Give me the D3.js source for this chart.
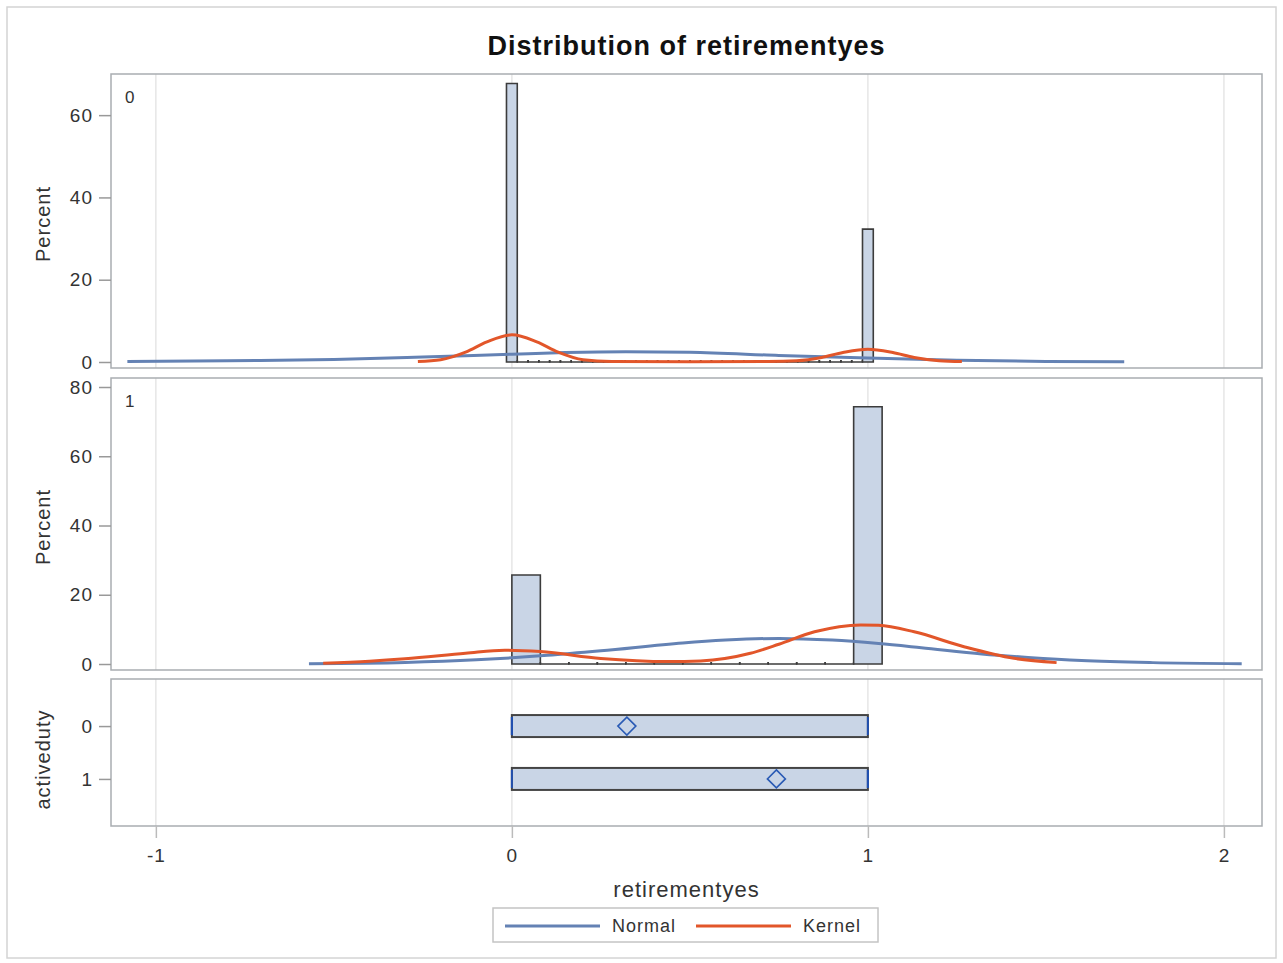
<!DOCTYPE html>
<html lang="en">
    <head>
        <meta charset="utf-8">
        <title>Distribution of retirementyes</title>
        <style type="text/css">
            body {
              margin: 0;
              background: white;
            }
            text {
              font-family: "Liberation Sans", Arial, sans-serif;
              fill: #333;
              letter-spacing: 1px;
            }
            text.title {
              font-size: 27px;
              font-weight: bold;
              fill: #111;
            }
            text.tick {
              font-size: 19px;
            }
            text.AxisTitle {
              font-size: 20px;
            }
            text.legend {
              font-size: 18px;
            }
            text.panel {
              font-size: 17px;
              letter-spacing: 0;
            }
        </style>
    </head>
    <body>
        <script type="text/javascript" src="https://cdnjs.cloudflare.com/ajax/libs/d3/7.8.5/d3.min.js"></script>
        <script type="text/javascript">

          // histogram for activeduty = 0 (bins centred on k/33)
          const hist0Width = 1 / 33;
          const hist0Pct = [67.7, 0, 0, 0, 0, 0, 0, 0, 0, 0, 0, 0, 0, 0, 0, 0, 0,
                            0, 0, 0, 0, 0, 0, 0, 0, 0, 0, 0, 0, 0, 0, 0, 0, 32.3];

          // histogram for activeduty = 1 (bins starting at 0)
          const hist1Width = 0.08;
          const hist1Pct = [25.7, 0, 0, 0, 0, 0, 0, 0, 0, 0, 0, 0, 74.3];

          // fitted curves: [x, percent]
          const normal0 = [[-1.08, 0.1], [-0.8, 0.3], [-0.5, 0.6], [-0.25, 1.2], [0, 1.9], [0.15, 2.3],
                           [0.32, 2.5], [0.5, 2.35], [0.75, 1.6], [1.0, 0.95], [1.25, 0.45], [1.5, 0.15], [1.72, 0.05]];
          const kernel0 = [[-0.264, 0.1], [-0.2, 0.55], [-0.13, 2.4], [-0.07, 4.9], [0, 6.6], [0.07, 4.9],
                           [0.13, 2.4], [0.2, 0.55], [0.28, 0.1], [0.5, 0.05], [0.72, 0.1], [0.8, 0.3],
                           [0.87, 1.1], [0.93, 2.3], [1.0, 3.1], [1.07, 2.3], [1.13, 1.1], [1.2, 0.3], [1.264, 0.1]];
          const normal1 = [[-0.57, 0.1], [-0.3, 0.45], [-0.1, 1.2], [0, 1.8], [0.1, 2.5], [0.25, 3.8],
                           [0.48, 6.1], [0.6, 6.9], [0.75, 7.4], [0.9, 6.9], [1.03, 5.9], [1.15, 4.7],
                           [1.32, 2.9], [1.45, 1.9], [1.6, 1.0], [1.8, 0.4], [2.05, 0.1]];
          const kernel1 = [[-0.53, 0.2], [-0.4, 0.8], [-0.3, 1.5], [-0.13, 3.1], [-0.02, 4.0], [0.08, 3.6],
                           [0.25, 1.6], [0.44, 0.7], [0.53, 0.9], [0.67, 3.1], [0.75, 5.7], [0.85, 9.3],
                           [0.98, 11.3], [1.03, 11.2], [1.13, 9.3], [1.27, 5.0], [1.41, 1.65], [1.53, 0.4]];

          // box plot summaries per activeduty group
          const groups = ["0", "1"];
          const boxMin = [0, 0];
          const boxQ1 = [0, 0];
          const boxMedian = [0, 1];
          const boxQ3 = [1, 1];
          const boxMax = [1, 1];
          const boxMean = [0.323, 0.743];

          // tick labels
          const xTicks = [-1, 0, 1, 2];
          const yTicks0 = [0, 20, 40, 60];
          const yTicks1 = [0, 20, 40, 60, 80];

          const width = 1283, height = 963;
          const left = 111, right = 1262;

          const barFill = "#c9d5e6", barStroke = "#3c3c3c";
          const normalColor = "#6482b4", kernelColor = "#e2562a";
          const frameColor = "#a9adb1", gridColor = "#e6e6e6";

          var svg = d3.select("body")
                      .append("svg")
                      .attr("width", width)
                      .attr("height", height);

          // outer border
          svg.append("rect")
             .attr("x", 7).attr("y", 7)
             .attr("width", 1269).attr("height", 951)
             .attr("fill", "none")
             .attr("stroke", "#d4d4d4")
             .attr("stroke-width", 1.5);

          // title
          svg.append("text")
             .attr("class", "title")
             .attr("x", (left + right) / 2)
             .attr("y", 55)
             .attr("text-anchor", "middle")
             .text("Distribution of retirementyes");

          var xScale = d3.scaleLinear()
                         .domain([-1.126, 2.107])
                         .range([left, right]);

          // panel definitions
          const panels = [
            {top: 74, bottom: 368, domain: [-1.46, 70], ticks: yTicks0, label: "0",
             hist: hist0Pct, binWidth: hist0Width, binStart: -hist0Width / 2, normal: normal0, kernel: kernel0},
            {top: 378, bottom: 670, domain: [-1.73, 82.6], ticks: yTicks1, label: "1",
             hist: hist1Pct, binWidth: hist1Width, binStart: 0, normal: normal1, kernel: kernel1}
          ];

          var line = d3.line().curve(d3.curveMonotoneX);

          function styleTicks(sel, color) {
            sel.select(".domain").remove();
            sel.selectAll(".tick line").attr("stroke", color).attr("stroke-width", 1.5);
            sel.selectAll(".tick text")
               .attr("class", "tick")
               .attr("font-family", null).attr("font-size", null)
               .attr("fill", "#2b2b2b");
          }

          panels.forEach(function(p) {
            var yScale = d3.scaleLinear()
                           .domain(p.domain)
                           .range([p.bottom, p.top]);

            var g = svg.append("g");

            // vertical grid
            g.selectAll("line.grid")
             .data(xTicks)
             .enter()
             .append("line")
             .attr("x1", d => xScale(d)).attr("x2", d => xScale(d))
             .attr("y1", p.top).attr("y2", p.bottom)
             .attr("stroke", gridColor)
             .attr("stroke-width", 1.5);

            // histogram bars
            g.selectAll("path.bar")
             .data(p.hist)
             .enter()
             .append("path")
             .attr("d", function(d, i) {
                var x0 = xScale(p.binStart + i * p.binWidth);
                var x1 = xScale(p.binStart + (i + 1) * p.binWidth);
                var y0 = yScale(0);
                var yt = d > 0 ? yScale(d) : y0 - 2;
                if (d > 0) {
                  return "M" + x0 + "," + y0 + "V" + yt + "H" + x1 + "V" + y0 + "Z";
                }
                return "M" + x0 + "," + yt + "V" + y0 + "H" + x1 + "V" + yt;
             })
             .attr("fill", d => d > 0 ? barFill : "none")
             .attr("stroke", barStroke)
             .attr("stroke-width", 1.6);

            // curves
            g.append("path")
             .attr("d", line(p.normal.map(d => [xScale(d[0]), yScale(d[1])])))
             .attr("fill", "none")
             .attr("stroke", normalColor)
             .attr("stroke-width", 3);

            g.append("path")
             .attr("d", line(p.kernel.map(d => [xScale(d[0]), yScale(d[1])])))
             .attr("fill", "none")
             .attr("stroke", kernelColor)
             .attr("stroke-width", 3);

            // frame
            g.append("rect")
             .attr("x", left).attr("y", p.top)
             .attr("width", right - left).attr("height", p.bottom - p.top)
             .attr("fill", "none")
             .attr("stroke", frameColor)
             .attr("stroke-width", 1.5);

            // y axis
            var yAxis = d3.axisLeft(yScale)
                          .tickValues(p.ticks)
                          .tickSize(12)
                          .tickPadding(6);
            var ax = g.append("g")
                      .attr("transform", "translate(" + left + ",0)")
                      .call(yAxis);
            styleTicks(ax, "#999");

            // panel class label
            g.append("text")
             .attr("class", "panel")
             .attr("x", 125)
             .attr("y", p.top + 29)
             .text(p.label);

            // y axis title
            g.append("text")
             .attr("class", "AxisTitle")
             .attr("transform", "translate(50," + ((p.top + p.bottom) / 2 + 3) + ") rotate(-90)")
             .attr("text-anchor", "middle")
             .text("Percent");
          });

          // box plot panel
          const boxTop = 679, boxBottom = 826;
          var yBox = d3.scalePoint()
                       .domain(groups)
                       .range([boxTop, boxBottom])
                       .padding(0.89);
          const halfH = 11;

          var gb = svg.append("g");

          gb.selectAll("line.grid")
            .data(xTicks)
            .enter()
            .append("line")
            .attr("x1", d => xScale(d)).attr("x2", d => xScale(d))
            .attr("y1", boxTop).attr("y2", boxBottom)
            .attr("stroke", gridColor)
            .attr("stroke-width", 1.5);

          groups.forEach(function(gname, i) {
            var cy = yBox(gname);
            gb.append("rect")
              .attr("x", xScale(boxQ1[i]))
              .attr("y", cy - halfH)
              .attr("width", xScale(boxQ3[i]) - xScale(boxQ1[i]))
              .attr("height", 2 * halfH)
              .attr("fill", barFill)
              .attr("stroke", "#444")
              .attr("stroke-width", 2);

            // whisker ends and median
            [boxMin[i], boxMax[i], boxMedian[i]].forEach(function(v) {
              gb.append("line")
                .attr("x1", xScale(v)).attr("x2", xScale(v))
                .attr("y1", cy - halfH + 2).attr("y2", cy + halfH - 2)
                .attr("stroke", "#2150b0")
                .attr("stroke-width", 2);
            });

            // mean diamond
            var mx = xScale(boxMean[i]);
            gb.append("path")
              .attr("d", "M" + mx + "," + (cy - 9) + "L" + (mx + 9) + "," + cy + "L" + mx + "," + (cy + 9) + "L" + (mx - 9) + "," + cy + "Z")
              .attr("fill", "none")
              .attr("stroke", "#2a5bb5")
              .attr("stroke-width", 1.6);
          });

          gb.append("rect")
            .attr("x", left).attr("y", boxTop)
            .attr("width", right - left).attr("height", boxBottom - boxTop)
            .attr("fill", "none")
            .attr("stroke", frameColor)
            .attr("stroke-width", 1.5);

          var bAxis = gb.append("g")
                        .attr("transform", "translate(" + left + ",0)")
                        .call(d3.axisLeft(yBox).tickSize(12).tickPadding(6));
          styleTicks(bAxis, "#999");

          gb.append("text")
            .attr("class", "AxisTitle")
            .attr("transform", "translate(50," + ((boxTop + boxBottom) / 2 + 7) + ") rotate(-90)")
            .attr("text-anchor", "middle")
            .text("activeduty");

          // x axis
          var xAxis = d3.axisBottom(xScale)
                        .tickValues(xTicks)
                        .tickFormat(d => String(d))
                        .tickSize(12)
                        .tickPadding(11);
          var xa = svg.append("g")
                      .attr("transform", "translate(0," + boxBottom + ")")
                      .call(xAxis);
          styleTicks(xa, "#bbb");

          svg.append("text")
             .attr("class", "AxisTitle")
             .attr("x", (left + right) / 2)
             .attr("y", 897)
             .attr("text-anchor", "middle")
             .style("font-size", "22px")
             .text("retirementyes");

          // legend
          svg.append("rect")
             .attr("x", 493).attr("y", 908)
             .attr("width", 385).attr("height", 34)
             .attr("fill", "white")
             .attr("stroke", "#c4c4c4")
             .attr("stroke-width", 1.5);

          const legendItems = [
            {name: "Normal", color: normalColor, x: 505},
            {name: "Kernel", color: kernelColor, x: 696}
          ];
          legendItems.forEach(function(d) {
            svg.append("line")
               .attr("x1", d.x).attr("x2", d.x + 95)
               .attr("y1", 926).attr("y2", 926)
               .attr("stroke", d.color)
               .attr("stroke-width", 3);
            svg.append("text")
               .attr("class", "legend")
               .attr("x", d.x + 107)
               .attr("y", 932)
               .text(d.name);
          });
        </script>
    </body>
</html>
